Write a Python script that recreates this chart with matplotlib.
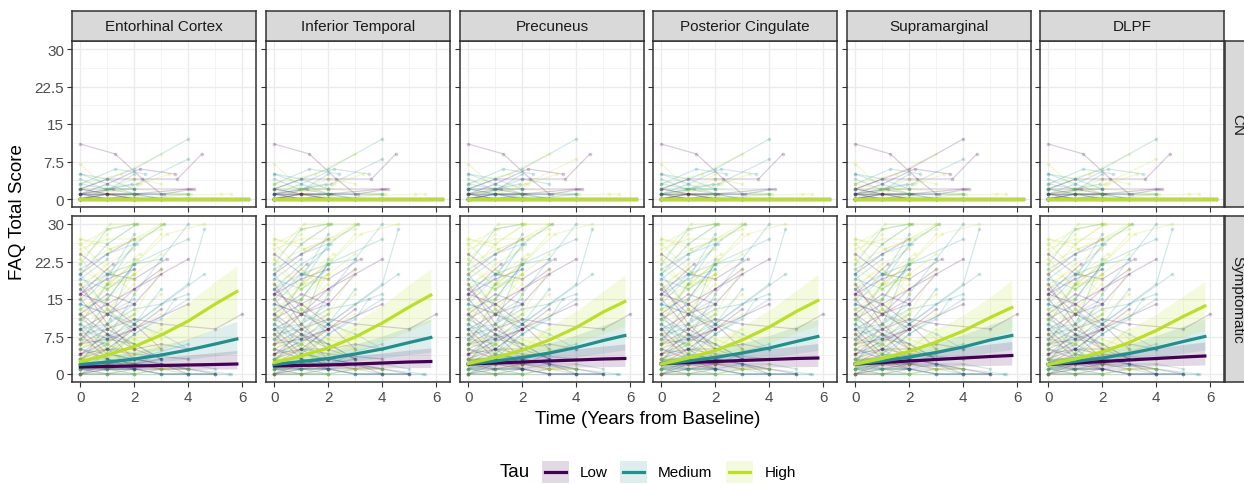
import numpy as np
import matplotlib
matplotlib.use("Agg")
import matplotlib.pyplot as plt
from matplotlib.patches import Rectangle
from matplotlib.lines import Line2D

plt.rcParams["font.family"] = ["Liberation Sans", "DejaVu Sans"]

regions = ["Entorhinal Cortex", "Inferior Temporal", "Precuneus",
           "Posterior Cingulate", "Supramarginal", "DLPF"]
rows = ["CN", "Symptomatic"]
groups = ["L", "M", "H"]
group_names = ["Low", "Medium", "High"]
colors = {"L": "#440154", "M": "#21908C", "H": "#BBDF27"}

# individual trajectories, CN (times, FAQ, tau group per region)
cn_t = [[0, 1.3, 2.3, 3.0], [0, 1.0, 2.0, 3.6, 4.5], [0, 2.0, 4.0], [0, 2.1, 4.0],
        [0, 1.5, 3.0], [0, 1.0, 2.0, 3.0], [0, 1.0, 2.2], [0, 1, 2, 3],
        [0, 1, 2], [0, 2, 4], [0, 1, 2, 4], [0, 2, 4, 5.1], [0, 1, 2, 3, 4],
        [0, 1.1, 2.0], [0, 1, 2.2, 3.5], [0, 1.3, 2.4], [0, 1, 2.5, 4],
        [0, 1, 2], [0, 2, 4.1], [0, 5.2, 5.6], [0, 1.2, 2.0, 4.1],
        [0, 1, 2, 3, 4], [0, 1, 2], [0, 1, 2], [0, 1.1, 2.2, 3.3], [0, 1, 2],
        [0, 1.0, 2.0, 3.0, 4.0], [0, 1, 2, 3], [0, 2, 4], [0, 1, 2],
        [0, 1, 2.1, 3.1, 4.2], [0, 1, 2], [0, 0.9, 1.9], [0, 1, 2, 3]]
cn_y = [[11, 9, 4, 1], [2, 4, 4, 4, 9], [2, 6, 12], [1, 3, 8],
        [3, 5, 9], [5, 3, 1, 0], [7, 2, 1], [0, 0, 0, 0],
        [1, 1, 1], [1, 1, 2], [2, 1, 1, 1], [0, 0, 0, 0], [0, 0, 0, 0, 0],
        [0, 2, 5], [1, 3, 6, 5], [3, 6, 5], [0, 1, 0, 1],
        [2, 2, 1], [1, 2, 1], [0, 1, 1], [1, 2, 2, 2],
        [1, 1, 1, 1, 1], [0, 1, 0], [3, 2, 2], [0, 1, 3, 5], [5, 4, 2],
        [1, 0, 1, 0, 0], [2, 2, 4, 3], [0, 0, 0], [1, 0, 0],
        [0, 1, 1, 1, 2], [0, 0, 1], [4, 2, 3], [2, 1, 0, 0]]
cn_tau = ["LLLLLL", "LLLLLL", "MMMMLM", "MMHMMH", "HHHHHH", "MMMMMM", "HHHHHH",
          "MMMMMM", "LLMLLL", "LLLLLL", "MMMMMM", "HHHHHH", "LLLLLL", "MMMHMM",
          "LMLMLM", "MMMMMM", "HHMHHH", "MMLMML", "HHHHHH", "HHHHHH", "LLLMLL",
          "MMMMMM", "LLLLLL", "MHMMHM", "HHHHHH", "MMMMMM", "MMMMMM", "HHMHHH",
          "MMMMMM", "LLLLLL", "LLLLLL", "HHHHHH", "MMMMMM", "LLMLLM"]

# individual trajectories, Symptomatic
sx_t = [[0, 1.1, 2.0, 3.0], [0, 1.0, 2.1], [0, 1.1, 2.0], [0, 1.0, 2.0, 3.2, 4.6],
        [0, 1, 2, 3.2], [0, 1, 2], [0, 1, 2, 3], [0, 1, 2], [0, 1.0, 2.0, 3.0, 4.0],
        [0, 1.0, 2.0, 4.0], [0, 2.0, 4.0, 4.6], [0, 1.0, 2.0, 3.0, 3.5],
        [0, 1.0, 2.0, 3.0, 5.0, 6.0], [0, 1, 2, 3], [0, 1.2, 2.2], [0, 1, 2],
        [0, 1, 2, 3], [0, 1, 2], [0, 1, 2, 3, 4], [0, 1.0, 2.0, 4.6],
        [0, 1.0, 2.0, 4.0], [0, 1, 2, 3], [0, 1, 2], [0, 1, 2, 3, 4],
        [0, 1, 2, 3, 4, 5], [0, 1, 2, 3, 4, 5.6], [0, 1, 2, 3, 4], [0, 1, 2],
        [0, 1, 2, 3], [0, 1, 2, 3, 4, 5], [0, 1, 2], [0, 1, 2], [0, 1, 2, 3],
        [0, 1, 2], [0, 1, 2], [0, 1, 2, 3], [0, 1], [0, 1, 2], [0, 1, 2],
        [0, 1, 2, 3], [0, 1, 2], [0, 1, 2, 4], [0, 2, 4, 5.5], [0, 1, 2, 3],
        [0, 1, 2], [0, 1, 2, 3], [0, 1, 2], [0, 1, 2], [0, 1, 2, 3], [0, 1, 2, 3],
        [0, 1, 2], [0, 1, 2, 3, 4], [0, 1, 2, 3, 4, 5], [0, 1, 2, 3], [0, 1, 2],
        [0, 1, 2, 3], [0, 2, 4], [0, 1, 2], [0, 1, 3, 4], [0, 1, 2], [0, 1, 2, 3],
        [0, 1], [0, 1, 2, 3, 4, 5], [0, 1, 2], [0, 1, 2, 3, 4], [0, 1, 2],
        [0, 2, 3], [0, 1, 2], [0, 1, 2, 4], [0, 1, 2], [0, 1, 2, 3],
        [0, 1, 2, 3, 4], [0, 1, 2], [0, 1, 2], [0, 1, 2, 3], [0, 1, 2], [0, 1, 2],
        [0, 1, 2, 3], [0, 1, 2], [0, 1, 3], [0, 1.1, 2.0, 3.0], [0, 1, 2.1],
        [0, 1.1, 2.2, 3.1], [0, 1, 2], [0, 0.9, 2.0, 3.0, 4.0], [0, 1, 2],
        [0, 1.1, 2.0], [0, 1, 2, 3.1], [0, 1.2], [0, 1, 2], [0, 1, 2, 3],
        [0, 1, 2.1], [0, 1, 2, 3, 4], [0, 1, 2], [0, 1, 2], [0, 1, 2, 3],
        [0, 1.1, 2.1], [0, 1, 2, 3, 4, 5], [0, 1, 2], [0, 1, 2], [0, 1, 2, 3],
        [0, 1, 2], [0, 1, 2, 3, 4], [0, 1.1, 2.0], [0, 1, 2], [0, 1, 2, 4]]
sx_y = [[24, 30, 30, 30], [27, 26, 30], [2, 11, 23], [11, 18, 22, 28, 30],
        [24, 20, 19, 23], [20, 13, 8], [18, 14, 11, 7], [16, 19, 21], [3, 7, 16, 23, 30],
        [6, 15, 22, 27], [5, 10, 18, 29], [0, 3, 8, 11, 15],
        [6, 9, 11, 10, 9, 12], [25, 27, 27, 30], [26, 20, 24], [14, 12, 15],
        [12, 8, 5, 3], [10, 5, 2], [9, 10, 13, 14, 16], [3, 6, 10, 20],
        [7, 12, 17, 23], [4, 6, 7, 5], [8, 13, 18], [2, 2, 3, 2, 0],
        [1, 0, 0, 1, 0, 0], [0, 0, 0, 0, 0, 0], [1, 1, 2, 2, 1], [0, 1, 1],
        [3, 3, 2, 4], [2, 2, 1, 1, 1, 0], [5, 9, 13], [6, 5, 9], [15, 20, 22, 23],
        [13, 17, 20], [17, 22, 25], [11, 14, 17, 21], [19, 23], [22, 29, 30], [9, 4, 3],
        [7, 6, 3, 2], [4, 2, 1], [3, 5, 4, 3], [2, 2, 1, 0], [12, 18, 22, 28],
        [8, 9, 12], [5, 3, 2, 1], [0, 0, 2], [3, 1, 0], [1, 4, 10, 17], [16, 14, 10, 5],
        [18, 21, 16], [4, 5, 5, 6, 5], [0, 1, 1, 2, 2, 1], [10, 13, 9, 12], [2, 5, 9],
        [6, 8, 12, 16], [1, 3, 6], [20, 24, 27], [14, 12, 8, 5], [21, 18, 19], [9, 12, 14, 20],
        [23, 28], [0, 0, 1, 0, 0, 0], [11, 8, 6], [3, 2, 2, 1, 1], [7, 10, 14],
        [4, 9, 13], [13, 15, 22], [2, 4, 8, 15], [5, 7, 6], [0, 2, 2, 3],
        [1, 1, 0, 1, 2], [17, 12, 9], [19, 17, 21], [8, 6, 4, 5], [1, 0, 0], [6, 12, 20],
        [3, 6, 12, 21], [10, 18, 26], [15, 9, 3], [27, 25, 27, 29], [20, 26, 30],
        [22, 25, 27, 30], [12, 5, 1], [2, 1, 1, 0, 0], [18, 10, 5],
        [26, 29, 30], [21, 24, 26, 30], [16, 22], [13, 10, 7], [9, 7, 6, 3],
        [17, 20, 26], [5, 4, 3, 2, 1], [12, 16, 14], [8, 3, 1], [1, 2, 5, 9],
        [15, 18, 23], [1, 1, 1, 0, 0, 0], [10, 7, 11], [4, 8, 3], [23, 17, 20, 24],
        [7, 4, 2], [0, 0, 0, 1, 1], [14, 20, 28], [11, 15, 20], [6, 7, 9, 14]]
sx_tau = ["HHHHHH", "HHHHHH", "MMMMMM", "HHHHHH", "LLLLLL", "MMMMMM", "HHHHHH",
          "LLLMLL", "MMMMMM", "MMMMMM", "MMMMMM", "MMMMMM", "LLLLLL", "HHHHHH",
          "HHHHHH", "MLMMLM", "LLLLLL", "MMMMMM", "MMMMMM", "MMMMMM", "LLLLLL",
          "HHHHHH", "HHHHHH", "LLLLLL", "MMMMMM", "MMMMMM", "LLLLLL", "LLMLLL",
          "MMLMMM", "LLLLLL", "HHHHHH", "HHMHHM", "MMMMMM", "HHHHHH", "HMHHHH",
          "LLLLLL", "MMMMMM", "MMMMMM", "LLLLLL", "MMMMMM", "HHHHHH", "LLLLLL",
          "MMMMMM", "HHHHHH", "MMMMMM", "LLLLLL", "HHHHHH", "MMMMMM", "MMMMMM",
          "LLLLLL", "HHHHHH", "LLLLLL", "MMMMMM", "HHHHHH", "LLLLLL", "HHHHHH",
          "MMMMMM", "LLLMLL", "MMMMMM", "HHHHHH", "LLLLLL", "HHHHHH", "LLLLLL",
          "MMMMMM", "HHHHHH", "MMMMMM", "LLLLLL", "MMMMMM", "MMMMMM", "HHHHHH",
          "LLLLLL", "HHHHHH", "LLLLLL", "MMMMMM", "HHHHHH", "MMMMMM", "HHHHHH",
          "HHHHHH", "MMMMMM", "LLLLLL", "HHHHHH", "MMHMMH", "HHHHHH", "MMMMMM",
          "MMLMML", "LLLLLL",
          "HHHHHH", "MMMMMM", "LLLLLL", "HHHHHH", "MMMMMM", "MMMMMM", "MMMMMM",
          "LLLLLL", "LLLLLL", "HHHHHH", "HHHHHH", "MMMMMM", "MMMMMM", "LLLLLL",
          "HHHHHH", "HHHHHH", "HHHHHH", "MMMMMM", "HHHHHH", "LLLLLL"]

# model fits (Symptomatic) per region
fit_t = [0, 1, 2, 3, 4, 5, 5.8]
fit_H = [[2.5, 3.8, 5.5, 7.8, 10.6, 14.0, 16.5],
         [2.3, 3.6, 5.2, 7.4, 10.2, 13.4, 15.8],
         [2.1, 3.3, 4.8, 6.8, 9.3, 12.4, 14.5],
         [2.0, 3.2, 4.7, 6.8, 9.4, 12.5, 14.7],
         [2.0, 3.1, 4.5, 6.4, 8.6, 11.3, 13.3],
         [1.9, 3.0, 4.4, 6.3, 8.7, 11.5, 13.6]]
fit_M = [[1.9, 2.4, 3.0, 3.8, 4.8, 6.0, 7.0],
         [1.9, 2.5, 3.1, 4.0, 5.0, 6.3, 7.3],
         [2.0, 2.6, 3.3, 4.2, 5.3, 6.7, 7.7],
         [2.0, 2.6, 3.3, 4.2, 5.2, 6.5, 7.5],
         [2.0, 2.6, 3.4, 4.3, 5.4, 6.8, 7.7],
         [1.9, 2.5, 3.2, 4.1, 5.2, 6.5, 7.5]]
fit_L = [[1.4, 1.5, 1.6, 1.7, 1.8, 1.9, 2.0],
         [1.6, 1.7, 1.8, 2.0, 2.2, 2.4, 2.5],
         [2.0, 2.2, 2.4, 2.6, 2.8, 3.0, 3.1],
         [2.1, 2.3, 2.5, 2.7, 2.9, 3.1, 3.2],
         [2.0, 2.3, 2.6, 2.9, 3.2, 3.5, 3.7],
         [1.9, 2.2, 2.5, 2.8, 3.1, 3.4, 3.6]]
lo_H = [[1.6, 2.5, 3.6, 5.0, 6.8, 9.0, 11.0],
        [1.5, 2.4, 3.4, 4.8, 6.5, 8.6, 10.5],
        [1.4, 2.2, 3.2, 4.5, 6.1, 8.1, 9.6],
        [1.4, 2.2, 3.2, 4.5, 6.2, 8.2, 9.7],
        [1.3, 2.1, 3.0, 4.2, 5.6, 7.3, 8.6],
        [1.3, 2.1, 3.0, 4.2, 5.7, 7.4, 8.8]]
hi_H = [[3.8, 5.6, 7.9, 10.8, 14.3, 18.5, 21.6],
        [3.6, 5.4, 7.6, 10.4, 13.8, 17.9, 21.0],
        [3.2, 4.9, 6.9, 9.5, 12.6, 16.6, 19.8],
        [3.1, 4.8, 6.9, 9.6, 12.8, 16.7, 19.9],
        [3.1, 4.6, 6.5, 8.9, 11.8, 15.4, 18.8],
        [3.0, 4.6, 6.5, 9.0, 12.0, 15.6, 18.5]]
lo_M = [[1.2, 1.6, 2.0, 2.5, 3.0, 3.6, 4.2],
        [1.2, 1.6, 2.1, 2.6, 3.2, 3.9, 4.4],
        [1.3, 1.7, 2.2, 2.8, 3.4, 4.2, 4.8],
        [1.3, 1.7, 2.2, 2.8, 3.4, 4.1, 4.7],
        [1.3, 1.7, 2.2, 2.8, 3.5, 4.3, 4.9],
        [1.2, 1.6, 2.1, 2.7, 3.4, 4.2, 4.8]]
hi_M = [[2.9, 3.6, 4.5, 5.7, 7.1, 9.0, 10.6],
        [2.9, 3.7, 4.7, 6.0, 7.6, 9.5, 11.0],
        [3.0, 3.8, 4.9, 6.2, 7.8, 9.8, 11.3],
        [3.0, 3.8, 4.9, 6.2, 7.7, 9.6, 11.0],
        [3.0, 3.8, 4.9, 6.2, 7.9, 9.9, 11.3],
        [2.9, 3.7, 4.7, 6.0, 7.7, 9.6, 11.1]]
lo_L = [[0.8, 0.85, 0.9, 0.92, 0.95, 0.98, 1.0],
        [1.0, 1.05, 1.1, 1.15, 1.2, 1.25, 1.3],
        [1.2, 1.25, 1.3, 1.35, 1.4, 1.45, 1.5],
        [1.2, 1.25, 1.3, 1.35, 1.4, 1.45, 1.5],
        [1.2, 1.3, 1.4, 1.5, 1.6, 1.7, 1.8],
        [1.2, 1.3, 1.4, 1.5, 1.6, 1.7, 1.8]]
hi_L = [[2.2, 2.5, 2.9, 3.3, 3.8, 4.3, 4.7],
        [2.4, 2.8, 3.2, 3.7, 4.2, 4.8, 5.2],
        [3.0, 3.4, 3.9, 4.4, 5.0, 5.6, 6.0],
        [3.0, 3.4, 3.9, 4.4, 5.0, 5.6, 6.1],
        [3.0, 3.5, 4.1, 4.7, 5.3, 6.0, 6.5],
        [3.0, 3.5, 4.0, 4.6, 5.2, 5.9, 6.4]]

# CN fits are flat near zero
cn_fit_t = [0, 6.2]
cn_fit = [0.05, 0.05]
cn_lo = [-0.15, -0.15]
cn_hi = [0.25, 0.25]

W, H = 1244, 485
fig = plt.figure(figsize=(W / 100, H / 100), dpi=100)


def fbox(x0, y0, x1, y1):
    return [x0 / W, 1 - y1 / H, (x1 - x0) / W, (y1 - y0) / H]


lefts = [72, 266, 460, 653, 847, 1040]
pw = 184
row_y = [(42, 208), (217, 383)]
grey20 = "#333333"
grey30 = "#4D4D4D"

for r, (y0, y1) in enumerate(row_y):
    for c, x0 in enumerate(lefts):
        ax = fig.add_axes(fbox(x0, y0, x0 + pw, y1))
        ax.set_xlim(-0.31, 6.51)
        ax.set_ylim(-1.6, 31.6)
        ax.set_xticks([0, 2, 4, 6])
        ax.set_xticks([1, 3, 5], minor=True)
        ax.set_yticks([0, 7.5, 15, 22.5, 30])
        ax.set_yticks([3.75, 11.25, 18.75, 26.25], minor=True)
        ax.set_yticklabels(["0", "7.5", "15", "22.5", "30"])
        ax.grid(True, which="major", color="#EBEBEB", lw=1.0, zorder=0)
        ax.grid(True, which="minor", color="#F2F2F2", lw=0.6, zorder=0)
        ax.set_axisbelow(True)
        for s in ax.spines.values():
            s.set_color(grey20)
            s.set_linewidth(1.1)
        ax.tick_params(which="minor", length=0)
        ax.tick_params(which="major", length=3.5, color=grey20, width=0.8,
                       labelsize=11, labelcolor=grey30, pad=2)
        if c != 0:
            ax.tick_params(axis="y", labelleft=False)
        if r == 0:
            ax.tick_params(axis="x", labelbottom=False)

        ts, ys, taus = (cn_t, cn_y, cn_tau) if r == 0 else (sx_t, sx_y, sx_tau)
        for t, y, tau in zip(ts, ys, taus):
            col = colors[tau[c]]
            ax.plot(t, y, color=col, alpha=0.2, lw=0.9, zorder=2)
            ax.plot(t, y, "o", color=col, alpha=0.22, ms=2.6, mew=0, zorder=2)

        if r == 0:
            for g in groups:
                ax.fill_between(cn_fit_t, cn_lo, cn_hi, color=colors[g], alpha=0.15, lw=0, zorder=3)
                ax.plot(cn_fit_t, cn_fit, color=colors[g], lw=2.3, zorder=4)
        else:
            for g, lo, hi in [("L", lo_L, hi_L), ("M", lo_M, hi_M), ("H", lo_H, hi_H)]:
                ax.fill_between(fit_t, lo[c], hi[c], color=colors[g], alpha=0.15, lw=0, zorder=3)
            for g, fit in [("L", fit_L), ("M", fit_M), ("H", fit_H)]:
                ax.plot(fit_t, fit[c], color=colors[g], lw=2.3, zorder=4)

        if r == 0:
            sax = fig.add_axes(fbox(x0, 12, x0 + pw, 42))
            sax.set_facecolor("#D9D9D9")
            sax.set_xticks([])
            sax.set_yticks([])
            for s in sax.spines.values():
                s.set_color(grey20)
                s.set_linewidth(1.1)
            sax.text(0.5, 0.5, regions[c], ha="center", va="center",
                     fontsize=11, color="#1A1A1A", transform=sax.transAxes)

    rax = fig.add_axes(fbox(1225, y0, 1252, y1))
    rax.set_facecolor("#D9D9D9")
    rax.set_xticks([])
    rax.set_yticks([])
    for s in rax.spines.values():
        s.set_color(grey20)
        s.set_linewidth(1.1)
    rax.text(0.45, 0.5, rows[r], rotation=-90, ha="center", va="center",
             fontsize=11, color="#1A1A1A", transform=rax.transAxes)

fig.text(648 / W, 1 - 420 / H, "Time (Years from Baseline)", ha="center", va="center",
         fontsize=13.5)
fig.text(18 / W, 1 - 212 / H, "FAQ Total Score", ha="center", va="center",
         rotation=90, fontsize=13.5)

# legend
ly = 473
fig.text(500 / W, 1 - ly / H, "Tau", ha="left", va="center", fontsize=13.5)
key_x = [542, 620, 726]
lab_x = [580, 658, 765]
for g, name, kx, lx in zip(groups, group_names, key_x, lab_x):
    fig.patches.append(Rectangle((kx / W, 1 - (ly + 11) / H), 27 / W, 22 / H,
                                 transform=fig.transFigure, facecolor=colors[g],
                                 alpha=0.15, edgecolor="none"))
    fig.lines.append(Line2D([(kx + 3) / W, (kx + 24) / W], [1 - ly / H, 1 - ly / H],
                            transform=fig.transFigure, color=colors[g], lw=2.3))
    fig.text(lx / W, 1 - ly / H, name, ha="left", va="center", fontsize=11)

fig.savefig("out.png", dpi=100)
